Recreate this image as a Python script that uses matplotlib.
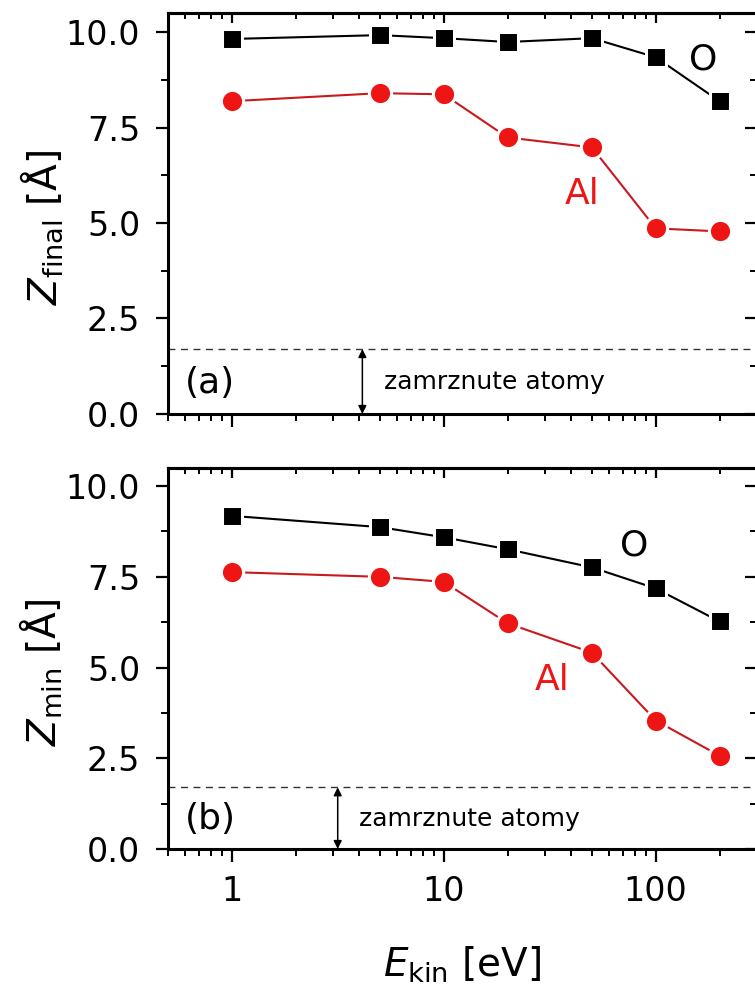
import matplotlib
matplotlib.use('Agg')
import matplotlib.pyplot as plt
from matplotlib.ticker import FixedLocator, LogLocator, NullFormatter, FuncFormatter

# kinetic energy [eV]
ekin = [1, 5, 10, 20, 50, 100, 200]

# (a) final z position [A]
zfin_O = [9.82, 9.92, 9.84, 9.74, 9.84, 9.34, 8.19]
zfin_Al = [8.19, 8.40, 8.37, 7.24, 6.98, 4.86, 4.78]

# (b) minimal z position [A]
zmin_O = [9.18, 8.87, 8.59, 8.26, 7.76, 7.18, 6.27]
zmin_Al = [7.63, 7.50, 7.36, 6.22, 5.41, 3.54, 2.57]

frozen = 1.7  # zamrznute atomy
yticks = [0, 2.5, 5.0, 7.5, 10.0]
yminor = [1.25, 3.75, 6.25, 8.75]

plt.rcParams['font.family'] = 'DejaVu Sans'
plt.rcParams['mathtext.fontset'] = 'dejavusans'

red = '#ee1515'
redline = '#c8191e'

fig = plt.figure(figsize=(7.55, 9.98), dpi=100)
ax1 = fig.add_axes([0.2225, 0.5852, 0.780, 0.4018])
ax2 = fig.add_axes([0.2225, 0.1493, 0.780, 0.3818])


def style(ax, ylab, tag, arrow_x, txt_x, o_pos, al_pos, zO, zAl, bottom):
    ax.plot(ekin, zO, '-', color='black', lw=1.5, marker='s', ms=14,
            mfc='black', mec='white', mew=2.2, zorder=3)
    ax.plot(ekin, zAl, '-', color=redline, lw=1.5, marker='o', ms=16,
            mfc=red, mec='white', mew=2.2, zorder=3)
    ax.axhline(frozen, color='#333333', lw=1.0, ls=(0, (5, 4)))
    ax.annotate('', xy=(arrow_x, frozen), xytext=(arrow_x, 0),
                arrowprops=dict(arrowstyle='<|-|>', color='black', lw=1.1,
                                mutation_scale=12, shrinkA=0, shrinkB=0))
    ax.text(txt_x, 0.84, 'zamrznute atomy', fontsize=18, va='center', ha='left')
    ax.text(0.6, 0.82, tag, fontsize=26, va='center', ha='left')
    ax.text(o_pos[0], o_pos[1], 'O', fontsize=26, va='center', ha='center')
    ax.text(al_pos[0], al_pos[1], 'Al', fontsize=26, va='center', ha='center',
            color=red)

    ax.set_xscale('log')
    ax.set_xlim(0.5, 300)
    ax.set_ylim(0, 10.5)
    ax.yaxis.set_major_locator(FixedLocator(yticks))
    ax.yaxis.set_minor_locator(FixedLocator(yminor))
    ax.yaxis.set_major_formatter(FuncFormatter(lambda v, p: '%.1f' % v))
    ax.xaxis.set_major_locator(LogLocator(base=10))
    ax.xaxis.set_minor_locator(LogLocator(base=10, subs=range(2, 10)))
    ax.xaxis.set_minor_formatter(NullFormatter())
    if bottom:
        ax.xaxis.set_major_formatter(FuncFormatter(lambda v, p: '%g' % v))
    else:
        ax.xaxis.set_major_formatter(NullFormatter())
    ax.tick_params(axis='both', which='major', direction='out', length=9,
                   width=1.6, labelsize=24)
    ax.tick_params(axis='both', which='minor', direction='out', length=5,
                   width=1.4)
    ax.tick_params(axis='y', which='major', pad=11)
    ax.tick_params(axis='x', which='major', pad=10)
    for s in ax.spines.values():
        s.set_linewidth(2.2)

    top = ax.secondary_xaxis('top')
    top.xaxis.set_major_locator(LogLocator(base=10))
    top.xaxis.set_minor_locator(LogLocator(base=10, subs=range(2, 10)))
    top.xaxis.set_major_formatter(NullFormatter())
    top.xaxis.set_minor_formatter(NullFormatter())
    top.tick_params(which='major', direction='in', length=7, width=1.6)
    top.tick_params(which='minor', direction='in', length=4, width=1.4)
    top.spines['top'].set_linewidth(2.2)

    right = ax.secondary_yaxis('right')
    right.yaxis.set_major_locator(FixedLocator(yticks))
    right.yaxis.set_minor_locator(FixedLocator(yminor))
    right.yaxis.set_major_formatter(NullFormatter())
    right.tick_params(which='major', direction='in', length=9, width=1.6)
    right.tick_params(which='minor', direction='in', length=5, width=1.4)
    right.spines['right'].set_linewidth(2.2)

    ax.set_ylabel(ylab, fontsize=28)
    ax.yaxis.set_label_coords(-0.175, 0.465)


style(ax1, r'$\mathit{Z}_{\mathrm{final}}$ [Å]', '(a)', 4.13, 5.2,
      (168, 9.29), (44.9, 5.75), zfin_O, zfin_Al, False)
style(ax2, r'$\mathit{Z}_{\mathrm{min}}$ [Å]', '(b)', 3.16, 4.0,
      (78.8, 8.35), (32.4, 4.67), zmin_O, zmin_Al, True)

ax2.set_xlabel(r'$\mathit{E}_{\mathrm{kin}}$ [eV]', fontsize=28)
ax2.xaxis.set_label_coords(0.5, -0.25)

fig.savefig('out.png', dpi=100)
